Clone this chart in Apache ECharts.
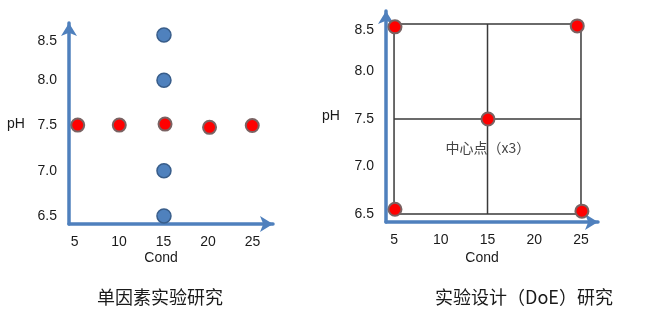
<!DOCTYPE html>
<html>
<head>
<meta charset="utf-8">
<script src="https://cdn.jsdelivr.net/npm/echarts@6/dist/echarts.min.js"></script>
<style>html,body{margin:0;padding:0;background:#fff;}#c{width:656px;height:319px;}</style>
</head>
<body>
<div id="c"></div>
<script>
// ---- data ----
const condTicks = [5, 10, 15, 20, 25];
const phTicks = [6.5, 7.0, 7.5, 8.0, 8.5];

// single-factor study: pH varied at Cond 15 (blue)
const ofatBlueCond = [15.05, 15.05, 15.05, 15.05];
const ofatBluePh = [8.5, 8.0, 7.0, 6.5];
// single-factor study: Cond varied at pH 7.5 (red)
const ofatRedCond = [5.36, 10.03, 15.17, 20.17, 24.97];
const ofatRedPh = [7.505, 7.505, 7.516, 7.48, 7.5];

// DoE: corner points + center point
const doeCond = [5.1, 24.6, 5.1, 25.1, 15.05];
const doePh = [8.47, 8.48, 6.55, 6.53, 7.5];
const centerLabel = '中心点（x3）';

// DoE design square and cross lines
const squareCond = [5, 25, 25, 5, 5];
const squarePh = [6.5, 6.5, 8.5, 8.5, 6.5];
const vertCond = [15, 15];
const vertPh = [6.5, 8.5];
const horzCond = [5, 25];
const horzPh = [7.5, 7.5];

const titles = ['单因素实验研究', '实验设计（DoE）研究'];
const xName = 'Cond';
const yName = 'pH';

// ---- chart ----
const zip = (a, b) => a.map((v, i) => [v, b[i]]);
const axisBlue = '#4f80bd';
const labelFont = { color: '#1a1a1a', fontSize: 14, fontFamily: 'Liberation Sans, Arial, sans-serif' };

function xAx(grid, min, max) {
  return {
    type: 'value', gridIndex: grid, min: min, max: max,
    axisLine: { show: true, onZero: false, symbol: ['none', 'arrow'], symbolSize: [12, 13], lineStyle: { color: axisBlue, width: 3.5 } },
    axisTick: { show: false }, splitLine: { show: false },
    axisLabel: Object.assign({ customValues: condTicks, margin: 11 }, labelFont)
  };
}
function yAx(grid, min, max) {
  return {
    type: 'value', gridIndex: grid, min: min, max: max,
    axisLine: { show: true, onZero: false, symbol: ['none', 'arrow'], symbolSize: [12, 13], lineStyle: { color: axisBlue, width: 3.5 } },
    axisTick: { show: false }, splitLine: { show: false },
    axisLabel: Object.assign({
      customValues: phTicks, margin: 12,
      formatter: v => v === 8.5 ? '{t|8.5}' : v.toFixed(1),
      rich: { t: { padding: [13, 0, 0, 0], color: '#1a1a1a', fontSize: 14, fontFamily: 'Liberation Sans, Arial, sans-serif' } }
    }, labelFont)
  };
}

const redDot = { color: '#ff0000', borderColor: '#7a6262', borderWidth: 2, opacity: 1 };
const blueDot = { color: '#4f81bd', borderColor: '#385d8a', borderWidth: 1.5, opacity: 1 };
const gridLine = { color: '#3a3a3a', width: 1.5 };

const chart = echarts.init(document.getElementById('c'), null, { renderer: 'canvas' });
chart.setOption({
  animation: false,
  backgroundColor: '#fff',
  grid: [
    { left: 69, top: 23, width: 204, height: 201 },
    { left: 386, top: 11, width: 212, height: 211 }
  ],
  xAxis: [xAx(0, 4.38, 27.3), xAx(1, 4.14, 26.82)],
  yAxis: [yAx(0, 6.412, 8.633), yAx(1, 6.416, 8.637)],
  series: [
    { type: 'scatter', xAxisIndex: 0, yAxisIndex: 0, symbolSize: 14, itemStyle: blueDot, data: zip(ofatBlueCond, ofatBluePh), z: 5 },
    { type: 'scatter', xAxisIndex: 0, yAxisIndex: 0, symbolSize: 13, itemStyle: redDot, data: zip(ofatRedCond, ofatRedPh), z: 5 },
    { type: 'line', xAxisIndex: 1, yAxisIndex: 1, symbol: 'none', lineStyle: gridLine, data: zip(squareCond, squarePh), z: 1 },
    { type: 'line', xAxisIndex: 1, yAxisIndex: 1, symbol: 'none', lineStyle: gridLine, data: zip(vertCond, vertPh), z: 1 },
    { type: 'line', xAxisIndex: 1, yAxisIndex: 1, symbol: 'none', lineStyle: gridLine, data: zip(horzCond, horzPh), z: 1 },
    {
      type: 'scatter', xAxisIndex: 1, yAxisIndex: 1, symbolSize: 13, itemStyle: redDot, z: 5,
      data: zip(doeCond, doePh).map((p, i) => i === doeCond.length - 1 ? {
        value: p,
        label: { show: true, position: 'bottom', distance: 14, formatter: centerLabel, color: '#444', fontSize: 14, fontFamily: 'Noto Sans CJK SC' }
      } : p)
    }
  ],
  graphic: [
    { type: 'text', style: { x: 16, y: 124, text: yName, align: 'center', verticalAlign: 'middle', fill: '#1a1a1a', font: '14px "Liberation Sans", Arial, sans-serif' } },
    { type: 'text', style: { x: 331, y: 116, text: yName, align: 'center', verticalAlign: 'middle', fill: '#1a1a1a', font: '14px "Liberation Sans", Arial, sans-serif' } },
    { type: 'text', style: { x: 161, y: 258, text: xName, align: 'center', verticalAlign: 'middle', fill: '#1a1a1a', font: '14px "Liberation Sans", Arial, sans-serif' } },
    { type: 'text', style: { x: 482, y: 258, text: xName, align: 'center', verticalAlign: 'middle', fill: '#1a1a1a', font: '14px "Liberation Sans", Arial, sans-serif' } },
    { type: 'text', style: { x: 160, y: 297, text: titles[0], align: 'center', verticalAlign: 'middle', fill: '#1a1a1a', font: '18px "Noto Sans CJK SC", sans-serif' } },
    { type: 'text', style: { x: 524, y: 297, text: titles[1], align: 'center', verticalAlign: 'middle', fill: '#1a1a1a', font: '18px "Noto Sans CJK SC", sans-serif' } }
  ]
});
</script>
</body>
</html>
